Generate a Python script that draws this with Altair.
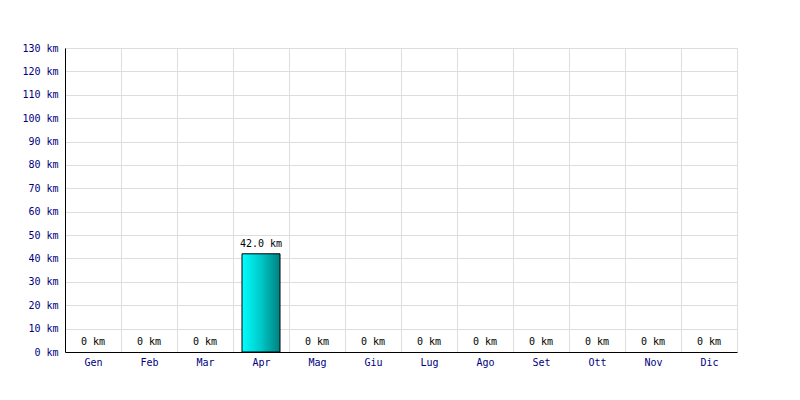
import altair as alt
import pandas as pd

months = ["Gen", "Feb", "Mar", "Apr", "Mag", "Giu", "Lug", "Ago", "Set", "Ott", "Nov", "Dic"]
km = [0, 0, 0, 42.0, 0, 0, 0, 0, 0, 0, 0, 0]

labels = ["0 km" if v == 0 else f"{v:.1f} km" for v in km]
df = pd.DataFrame({"month": months, "km": km, "label": labels})

FONT = "DejaVu Sans Mono"

x = alt.X("month:N", sort=months, title=None,
          scale=alt.Scale(paddingInner=0, paddingOuter=0),
          axis=alt.Axis(labelAngle=0, tickBand="extent", grid=True, ticks=False,
                        domainColor="black", labelColor="#000080", labelFont=FONT,
                        labelFontSize=10, labelPadding=5, gridColor="#dddddd"))
y = alt.Y("km:Q", title=None,
          scale=alt.Scale(domain=[0, 130], nice=False),
          axis=alt.Axis(values=list(range(0, 131, 10)), labelExpr="datum.value + ' km'",
                        ticks=False, domainColor="black", labelColor="#000080",
                        labelFont=FONT, labelFontSize=10, labelPadding=7,
                        gridColor="#dddddd"))

gradient = alt.LinearGradient(
    gradient="linear", x1=0, x2=1, y1=0, y2=0,
    stops=[alt.GradientStop(color="#00ffff", offset=0),
           alt.GradientStop(color="#00c8c8", offset=0.5),
           alt.GradientStop(color="#008080", offset=1)])

bars = alt.Chart(df).transform_filter("datum.km > 0").mark_bar(
    size=38, color=gradient, stroke="black", strokeWidth=1
).encode(x=x, y=y)

text = alt.Chart(df).mark_text(
    baseline="bottom", dy=-5, font=FONT, fontSize=10, color="black"
).encode(x=x, y=y, text="label:N")

chart = (bars + text).properties(
    width=672, height=304,
    autosize=alt.AutoSizeParams(type="none"),
    padding={"left": 57, "top": 40, "right": 47, "bottom": 36},
).configure_view(stroke="#dddddd")

chart.save("out.html", embed_options={"renderer": "svg", "actions": False})
